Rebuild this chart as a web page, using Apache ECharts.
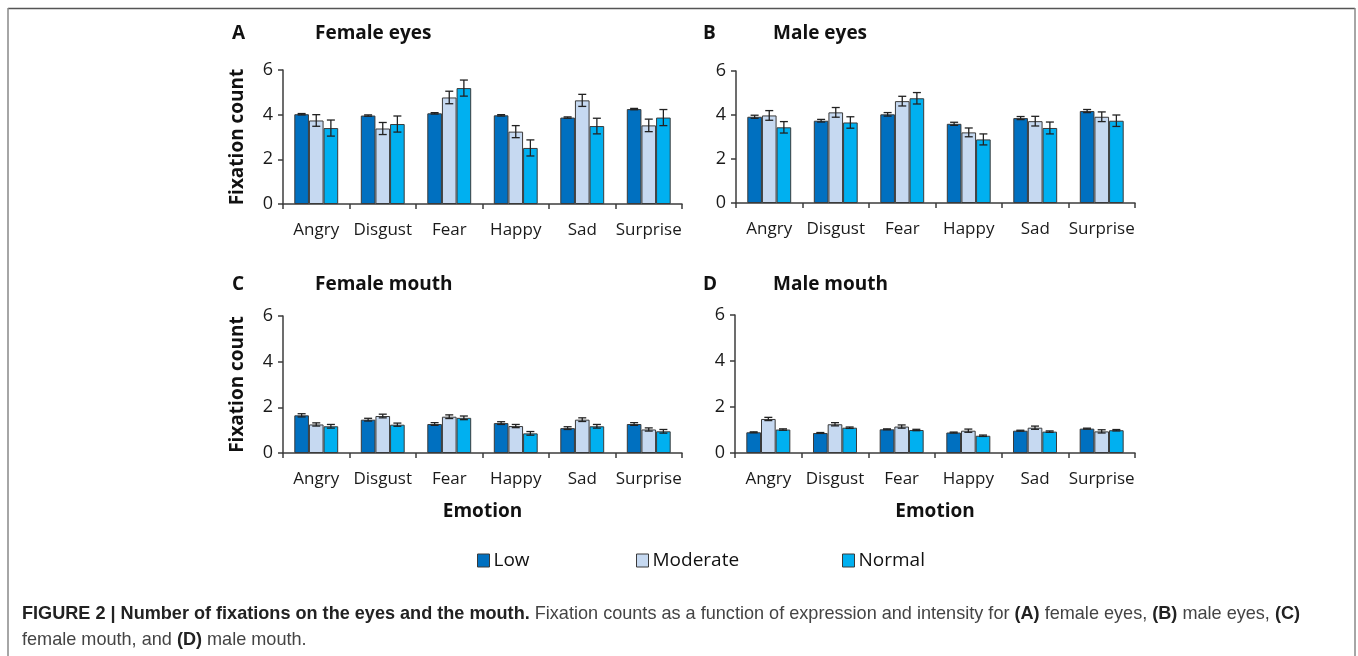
<!DOCTYPE html>
<html>
<head>
<meta charset="utf-8">
<script src="https://cdn.jsdelivr.net/npm/echarts@6/dist/echarts.min.js"></script>
<style>
  html, body { margin: 0; padding: 0; background: #fff; }
  #chart { width: 1358px; height: 656px; }
</style>
</head>
<body>
<div id="chart"></div>
<script>
const emotions = ['Angry', 'Disgust', 'Fear', 'Happy', 'Sad', 'Surprise']
const intensities = ['Low', 'Moderate', 'Normal']

// A - female eyes
const femaleEyesLow = [4.02, 3.96, 4.06, 3.97, 3.87, 4.25]
const femaleEyesModerate = [3.74, 3.38, 4.77, 3.24, 4.64, 3.52]
const femaleEyesNormal = [3.40, 3.58, 5.19, 2.51, 3.49, 3.87]
const femaleEyesLowErr = [0.03, 0.03, 0.03, 0.03, 0.03, 0.03]
const femaleEyesModerateErr = [0.26, 0.27, 0.28, 0.27, 0.27, 0.28]
const femaleEyesNormalErr = [0.36, 0.36, 0.36, 0.36, 0.35, 0.36]

// B - male eyes
const maleEyesLow = [3.92, 3.74, 4.03, 3.60, 3.86, 4.18]
const maleEyesModerate = [3.98, 4.12, 4.63, 3.21, 3.72, 3.92]
const maleEyesNormal = [3.44, 3.66, 4.76, 2.89, 3.41, 3.74]
const maleEyesLowErr = [0.07, 0.06, 0.08, 0.07, 0.07, 0.07]
const maleEyesModerateErr = [0.22, 0.22, 0.22, 0.2, 0.22, 0.22]
const maleEyesNormalErr = [0.26, 0.26, 0.26, 0.25, 0.27, 0.26]

// C - female mouth
const femaleMouthLow = [1.65, 1.46, 1.27, 1.31, 1.09, 1.27]
const femaleMouthModerate = [1.25, 1.62, 1.59, 1.18, 1.46, 1.03]
const femaleMouthNormal = [1.17, 1.24, 1.54, 0.86, 1.17, 0.95]
const femaleMouthLowErr = [0.07, 0.06, 0.06, 0.06, 0.06, 0.06]
const femaleMouthModerateErr = [0.07, 0.08, 0.08, 0.07, 0.08, 0.07]
const femaleMouthNormalErr = [0.08, 0.07, 0.08, 0.08, 0.08, 0.08]

// D - male mouth
const maleMouthLow = [0.90, 0.87, 1.03, 0.89, 0.97, 1.06]
const maleMouthModerate = [1.48, 1.25, 1.15, 0.97, 1.10, 0.94]
const maleMouthNormal = [1.02, 1.10, 1.00, 0.75, 0.93, 0.99]
const maleMouthLowErr = [0.02, 0.02, 0.02, 0.02, 0.02, 0.02]
const maleMouthModerateErr = [0.07, 0.07, 0.07, 0.07, 0.07, 0.07]
const maleMouthNormalErr = [0.03, 0.03, 0.03, 0.03, 0.03, 0.03]

const yTicks = [0, 2, 4, 6]

const colors = ['#0070c0', '#c6d9f1', '#00b0f0']
const FONT = 'Open Sans'
const GAP = 0.34 // barCategoryGap

const panels = [
  { letter: 'A', title: 'Female eyes', vals: [femaleEyesLow, femaleEyesModerate, femaleEyesNormal], errs: [femaleEyesLowErr, femaleEyesModerateErr, femaleEyesNormalErr], grid: { left: 283, top: 70, width: 399, height: 134 }, yName: true, xName: false, head: [232, 315, 36] },
  { letter: 'B', title: 'Male eyes', vals: [maleEyesLow, maleEyesModerate, maleEyesNormal], errs: [maleEyesLowErr, maleEyesModerateErr, maleEyesNormalErr], grid: { left: 736, top: 71, width: 399, height: 132 }, yName: false, xName: false, head: [703, 773, 36] },
  { letter: 'C', title: 'Female mouth', vals: [femaleMouthLow, femaleMouthModerate, femaleMouthNormal], errs: [femaleMouthLowErr, femaleMouthModerateErr, femaleMouthNormalErr], grid: { left: 283, top: 316, width: 399, height: 137 }, yName: true, xName: true, head: [232, 315, 287] },
  { letter: 'D', title: 'Male mouth', vals: [maleMouthLow, maleMouthModerate, maleMouthNormal], errs: [maleMouthLowErr, maleMouthModerateErr, maleMouthNormalErr], grid: { left: 735, top: 315, width: 400, height: 138 }, yName: false, xName: true, head: [703, 773, 287] }
]

function errRenderer(k) {
  return function (params, api) {
    const idx = api.value(0)
    const top = api.coord([idx, api.value(2)])
    const bot = api.coord([idx, api.value(1)])
    const bw = api.size([1, 0])[0] * (1 - GAP) / 3
    const cx = top[0] + (k - 1) * bw
    const cap = 4
    const style = { stroke: '#222', lineWidth: 1.3 }
    return {
      type: 'group',
      children: [
        { type: 'line', shape: { x1: cx, y1: top[1], x2: cx, y2: bot[1] }, style },
        { type: 'line', shape: { x1: cx - cap, y1: top[1], x2: cx + cap, y2: top[1] }, style },
        { type: 'line', shape: { x1: cx - cap, y1: bot[1], x2: cx + cap, y2: bot[1] }, style }
      ]
    }
  }
}

const grid = []
const xAxis = []
const yAxis = []
const series = []
const graphic = []

panels.forEach((p, i) => {
  grid.push(p.grid)
  xAxis.push({
    type: 'category',
    gridIndex: i,
    data: emotions,
    name: p.xName ? 'Emotion' : '',
    nameLocation: 'middle',
    nameGap: 49,
    nameTextStyle: { fontFamily: FONT, fontWeight: 'bold', fontSize: 19, color: '#111' },
    axisLine: { lineStyle: { color: '#3c3c3c', width: 1.5 } },
    axisTick: { show: true, length: 5, lineStyle: { color: '#3c3c3c', width: 1.5 } },
    axisLabel: { interval: 0, margin: 18, fontFamily: FONT, fontSize: 17, color: '#1a1a1a' }
  })
  yAxis.push({
    type: 'value',
    gridIndex: i,
    min: yTicks[0],
    max: yTicks[yTicks.length - 1],
    interval: 2,
    name: p.yName ? 'Fixation count' : '',
    nameLocation: 'middle',
    nameGap: 36,
    nameTextStyle: { fontFamily: FONT, fontWeight: 'bold', fontSize: 19, color: '#111' },
    axisLine: { show: true, lineStyle: { color: '#3c3c3c', width: 1.5 } },
    axisTick: { show: true, length: 5, lineStyle: { color: '#3c3c3c', width: 1.5 } },
    axisLabel: { margin: 10, fontFamily: FONT, fontSize: 18, color: '#1a1a1a' },
    splitLine: { show: false }
  })
  intensities.forEach((name, k) => {
    series.push({
      name,
      type: 'bar',
      xAxisIndex: i,
      yAxisIndex: i,
      barGap: 0,
      barCategoryGap: (GAP * 100) + '%',
      data: p.vals[k],
      itemStyle: { color: colors[k], borderColor: '#3a3a3a', borderWidth: 1 },
      silent: true
    })
  })
  intensities.forEach((name, k) => {
    series.push({
      type: 'custom',
      xAxisIndex: i,
      yAxisIndex: i,
      renderItem: errRenderer(k),
      encode: { x: 0, y: [1, 2] },
      data: p.vals[k].map((v, j) => [j, v - p.errs[k][j], v + p.errs[k][j]]),
      z: 5,
      silent: true
    })
  })
  graphic.push({
    type: 'text', left: p.head[0], top: p.head[2] - 12,
    style: { text: p.letter, fontFamily: FONT, fontWeight: 'bold', fontSize: 19, fill: '#111' }
  })
  graphic.push({
    type: 'text', left: p.head[1], top: p.head[2] - 12,
    style: { text: p.title, fontFamily: FONT, fontWeight: 'bold', fontSize: 19, fill: '#111' }
  })
})

// frame
graphic.push({ type: 'line', shape: { x1: 8, y1: 8.5, x2: 1355, y2: 8.5 }, style: { stroke: '#555', lineWidth: 1.5 } })
graphic.push({ type: 'line', shape: { x1: 8, y1: 8, x2: 8, y2: 660 }, style: { stroke: '#888', lineWidth: 1.5 } })
graphic.push({ type: 'line', shape: { x1: 1355, y1: 8, x2: 1355, y2: 660 }, style: { stroke: '#888', lineWidth: 1.5 } })

// caption
const capFont = 'Liberation Sans'
graphic.push({
  type: 'text', left: 22, top: 601,
  style: {
    text: '{b|FIGURE 2 | Number of fixations on the eyes and the mouth.} Fixation counts as a function of expression and intensity for {b|(A)} female eyes, {b|(B)} male eyes, {b|(C)}\nfemale mouth, and {b|(D)} male mouth.',
    fontFamily: capFont, fontSize: 18.1, fill: '#444', lineHeight: 26,
    rich: { b: { fontFamily: capFont, fontSize: 18.1, fontWeight: 'bold', fill: '#222', lineHeight: 26 } }
  }
})

const legendLefts = [472, 631, 837]
const legend = intensities.map((name, k) => ({
  data: [name],
  left: legendLefts[k],
  top: 546,
  icon: 'rect',
  itemWidth: 12,
  itemHeight: 13,
  itemGap: 0,
  itemStyle: { borderColor: '#3a3a3a', borderWidth: 1 },
  textStyle: { fontFamily: FONT, fontSize: 19, color: '#111', padding: [0, 0, 0, -1] },
  selectedMode: false
}))

const chart = echarts.init(document.getElementById('chart'))
chart.setOption({
  backgroundColor: '#fff',
  animation: false,
  grid,
  xAxis,
  yAxis,
  legend,
  series,
  graphic
})
</script>
</body>
</html>
